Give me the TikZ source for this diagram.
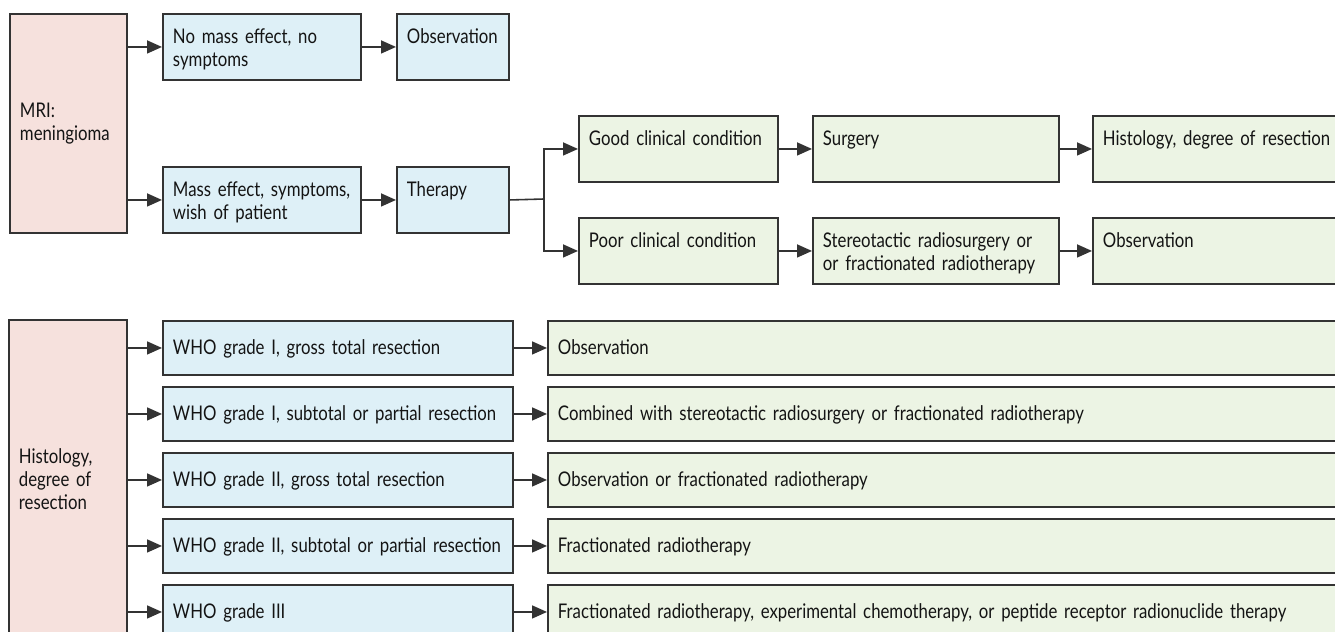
\documentclass[tikz,border=0pt]{standalone}
\usepackage{fontspec}
\setmainfont[FakeStretch=0.83,WordSpace=0.85]{Lato}
\usetikzlibrary{arrows.meta}
\hyphenpenalty=10000
\exhyphenpenalty=10000
\definecolor{mripink}{HTML}{F6E1DD}
\definecolor{stepblue}{HTML}{DEF0F7}
\definecolor{stepgreen}{HTML}{ECF4E4}
\definecolor{boxline}{HTML}{333333}
\begin{document}
\begin{tikzpicture}[x=0.02cm,y=-0.02cm,font=\fontsize{11.5}{13}\selectfont,text=black!92,
        >={Triangle[length=3mm,width=2.6mm]},
        box/.style={draw=boxline,line width=1.1pt,anchor=north west,align=left,inner xsep=0.2cm,inner ysep=0pt},
        topbox/.style={box,text height=0.6cm,text depth=0.72cm},
        rowbox/.style={box,minimum height=1.08cm,text height=0.28cm,text depth=0cm},
        link/.style={->,line width=0.9pt,draw=boxline}]
                \useasboundingbox (0,0) rectangle (1335,632);
                \clip (0,0) rectangle (1335,632);
                % first scan
                \node[box,fill=mripink,text width=1.94cm,minimum height=4.38cm] (mri) at (9,13) {MRI:\\meningioma};
                \node[topbox,fill=stepblue,text width=3.56cm] (nomass) at (162,13) {No mass effect, no\\symptoms};
                \node[topbox,fill=stepblue,text width=1.84cm] (obs) at (396,13) {Observation};
                \node[topbox,fill=stepblue,text width=3.56cm] (mass) at (162,166) {Mass effect, symptoms,\\wish of patient};
                \node[topbox,fill=stepblue,text width=1.84cm] (therapy) at (396,166) {Therapy};
                \node[topbox,fill=stepgreen,text width=3.58cm] (good) at (578,115) {Good clinical condition};
                \node[topbox,fill=stepgreen,text width=3.58cm] (poor) at (578,217) {Poor clinical condition};
                \node[topbox,fill=stepgreen,text width=4.52cm] (surgery) at (812,115) {Surgery};
                \node[topbox,fill=stepgreen,text width=4.52cm] (radio) at (812,217) {Stereotactic radiosurgery or\\or fractionated radiotherapy};
                \node[topbox,fill=stepgreen,text width=5.6cm] (histo) at (1092,115) {Histology, degree of resection};
                \node[topbox,fill=stepgreen,text width=5.6cm] (obsb) at (1092,217) {Observation};
                \coordinate (fork) at (544,199);
                \draw[link] (mri.east |- nomass.west) -- (nomass.west);
                \draw[link] (mri.east |- mass.west) -- (mass.west);
                \draw[link] (nomass.east) -- (obs.west);
                \draw[link] (mass.east) -- (therapy.west);
                \draw[line width=0.9pt,draw=boxline] (therapy.east) -- (fork);
                \draw[link] (fork) |- (good.west);
                \draw[link] (fork) |- (poor.west);
                \draw[link] (good.east) -- (surgery.west);
                \draw[link] (surgery.east) -- (histo.west);
                \draw[link] (poor.east) -- (radio.west);
                \draw[link] (radio.east) -- (obsb.west);
                % after surgery
                \node[box,fill=mripink,text width=1.96cm,minimum height=6.36cm] (grading) at (8,319) {Histology,\\degree of\\resection};
                \node[rowbox,fill=stepblue,text width=6.6cm] (who1) at (162,320) {WHO grade I, gross total resection};
                \node[rowbox,fill=stepblue,text width=6.6cm] (who2) at (162,386) {WHO grade I, subtotal or partial resection};
                \node[rowbox,fill=stepblue,text width=6.6cm] (who3) at (162,452) {WHO grade II, gross total resection};
                \node[rowbox,fill=stepblue,text width=6.6cm] (who4) at (162,518) {WHO grade II, subtotal or partial resection};
                \node[rowbox,fill=stepblue,text width=6.6cm] (who5) at (162,584) {WHO grade III};
                \node[rowbox,fill=stepgreen,text width=16.6cm] (plan1) at (547,320) {Observation};
                \node[rowbox,fill=stepgreen,text width=16.6cm] (plan2) at (547,386) {Combined with stereotactic radiosurgery or fractionated radiotherapy};
                \node[rowbox,fill=stepgreen,text width=16.6cm] (plan3) at (547,452) {Observation or fractionated radiotherapy};
                \node[rowbox,fill=stepgreen,text width=16.6cm] (plan4) at (547,518) {Fractionated radiotherapy};
                \node[rowbox,fill=stepgreen,text width=16.6cm] (plan5) at (547,584) {Fractionated radiotherapy, experimental chemotherapy, or peptide receptor radionuclide therapy};
                \draw[link] (grading.east |- who1.west) -- (who1.west);
                \draw[link] (grading.east |- who2.west) -- (who2.west);
                \draw[link] (grading.east |- who3.west) -- (who3.west);
                \draw[link] (grading.east |- who4.west) -- (who4.west);
                \draw[link] (grading.east |- who5.west) -- (who5.west);
                \draw[link] (who1.east) -- (plan1.west);
                \draw[link] (who2.east) -- (plan2.west);
                \draw[link] (who3.east) -- (plan3.west);
                \draw[link] (who4.east) -- (plan4.west);
                \draw[link] (who5.east) -- (plan5.west);
\end{tikzpicture}
\end{document}
